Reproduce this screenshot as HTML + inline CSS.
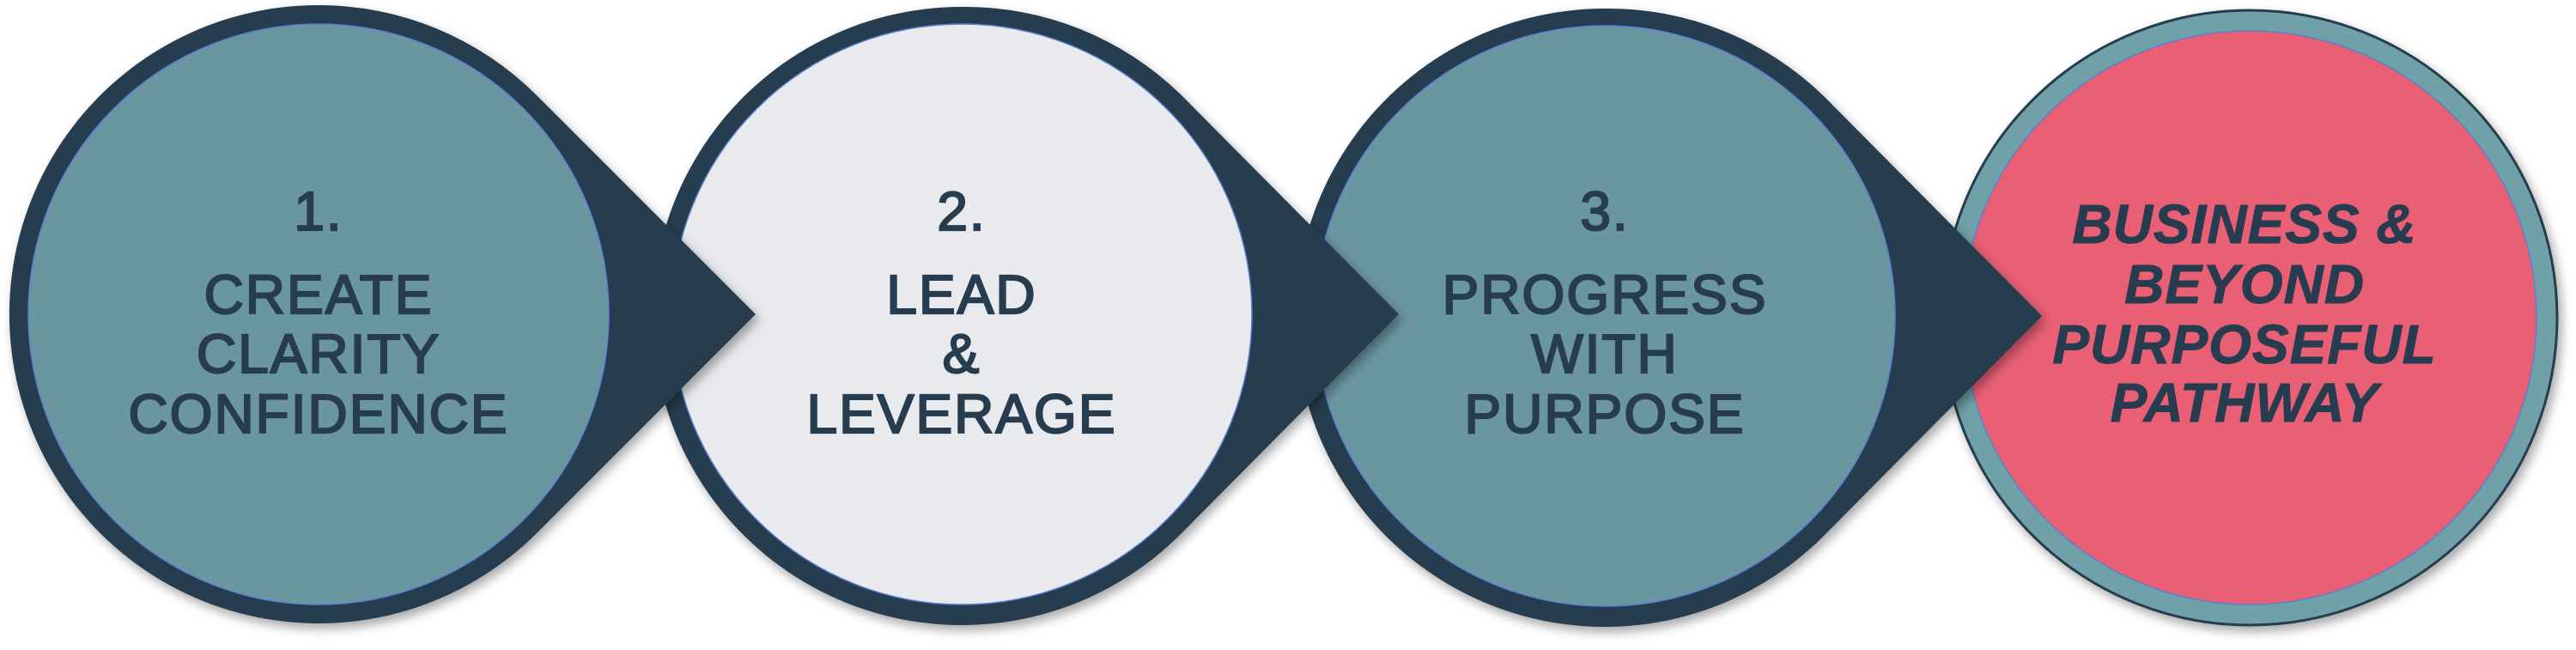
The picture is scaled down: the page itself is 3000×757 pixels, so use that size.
<!DOCTYPE html>
<html><head><meta charset="utf-8"><style>
html,body{margin:0;padding:0;background:#fff;width:3000px;height:757px;overflow:hidden}
svg{display:block}
text{font-family:"Liberation Sans",sans-serif;fill:#283c50;text-anchor:middle}
.n{font-size:64px;letter-spacing:2px;stroke:#283c50;stroke-width:2.2px}
.b{font-size:64px;font-weight:bold;font-style:italic;letter-spacing:1px;stroke:#283c50;stroke-width:1px}
</style></head><body>
<svg width="3000" height="757" viewBox="0 0 3000 757" xmlns="http://www.w3.org/2000/svg">
<defs>
<filter id="sh" x="-10%" y="-10%" width="130%" height="130%">
<feDropShadow dx="4" dy="6" stdDeviation="6" flood-color="#000" flood-opacity="0.35"/>
</filter>
</defs>
<g filter="url(#sh)">
<circle cx="2620" cy="370" r="358" fill="#6fa0a8" stroke="#283c50" stroke-width="3"/>
<circle cx="2620" cy="370" r="334" fill="#e96175" stroke="#5b7fd0" stroke-width="1.5"/>
</g>
<g filter="url(#sh)">
<path d="M1869,10 A360,360 0 1,0 2124,624 L2378,368 L2124,112 A360,360 0 0,0 1869,10 Z" fill="#283c50"/>
<circle cx="1869" cy="368" r="338" fill="#6b96a0" stroke="#5b7fd0" stroke-width="1.5"/>
</g>
<g filter="url(#sh)">
<path d="M1120,8 A360,360 0 1,0 1375,622 L1629,366 L1375,110 A360,360 0 0,0 1120,8 Z" fill="#283c50"/>
<circle cx="1120" cy="366" r="338" fill="#e9eaed" stroke="#5b7fd0" stroke-width="1.5"/>
</g>
<g filter="url(#sh)">
<path d="M370,6 A360,360 0 1,0 625,621 L880,366 L625,111 A360,360 0 0,0 370,6 Z" fill="#283c50"/>
<circle cx="371" cy="366" r="338" fill="#6b96a0" stroke="#5b7fd0" stroke-width="1.5"/>
</g>

<text class="n" x="371" y="268">1.</text>
<text class="n" x="371" y="365">CREATE</text>
<text class="n" x="371" y="434">CLARITY</text>
<text class="n" x="371" y="504">CONFIDENCE</text>

<text class="n" x="1120" y="268">2.</text>
<text class="n" x="1120" y="365">LEAD</text>
<text class="n" x="1120" y="434">&amp;</text>
<text class="n" x="1120" y="504">LEVERAGE</text>

<text class="n" x="1869" y="268">3.</text>
<text class="n" x="1869" y="365">PROGRESS</text>
<text class="n" x="1869" y="434">WITH</text>
<text class="n" x="1869" y="504">PURPOSE</text>

<text class="b" x="2614" y="283">BUSINESS &amp;</text>
<text class="b" x="2614" y="353">BEYOND</text>
<text class="b" x="2614" y="423">PURPOSEFUL</text>
<text class="b" x="2614" y="491">PATHWAY</text>
</svg>
</body></html>
